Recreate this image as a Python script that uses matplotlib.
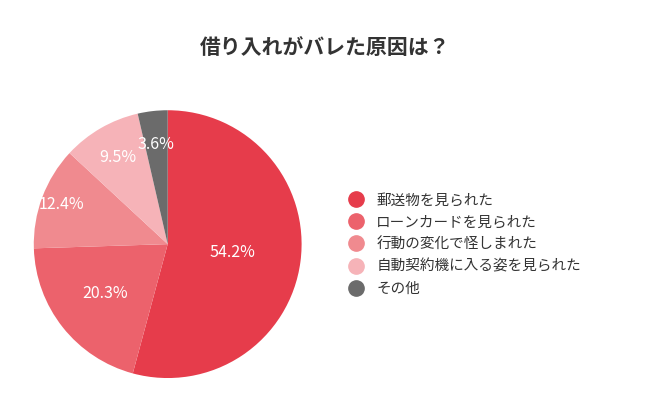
import numpy as np
import matplotlib
matplotlib.use("Agg")
from matplotlib import pyplot as plt
from matplotlib.lines import Line2D

plt.rcParams["font.family"] = "Noto Sans CJK JP"

title = "借り入れがバレた原因は？"
labels = ["郵送物を見られた", "ローンカードを見られた", "行動の変化で怪しまれた",
          "自動契約機に入る姿を見られた", "その他"]
values = [54.2, 20.3, 12.4, 9.5, 3.6]
colors = ["#E63C4B", "#EC626C", "#F08A8F", "#F6B3B8", "#6B6B6B"]
label_dist = [0.49, 0.6, 0.85, 0.75, 0.75]

fig = plt.figure(figsize=(6.5, 4.11), dpi=100)
fig.text(0.5, 0.885, title, ha="center", va="center", fontsize=15,
         fontweight="bold", color="#333333")

ax = fig.add_axes([0.052, 0.080, 0.412, 0.652])
wedges, _ = ax.pie(values, colors=colors, startangle=90, counterclock=False,
                   radius=1.0)
for w, v, d in zip(wedges, values, label_dist):
    mid = np.deg2rad((w.theta1 + w.theta2) / 2)
    ax.text(d * np.cos(mid), d * np.sin(mid), f"{v}%", ha="center",
            va="center", fontsize=11.5, color="white")
ax.set_xlim(-1, 1)
ax.set_ylim(-1, 1)
ax.set_aspect("equal")

handles = [Line2D([], [], marker="o", linestyle="", markersize=11,
                  markerfacecolor=c, markeredgecolor=c) for c in colors]
fig.legend(handles, labels, loc="center left", bbox_to_anchor=(0.505, 0.405),
           frameon=False, fontsize=10.5, handletextpad=0.4, labelspacing=0.55,
           labelcolor="#333333")

fig.savefig("out.png", dpi=100)
